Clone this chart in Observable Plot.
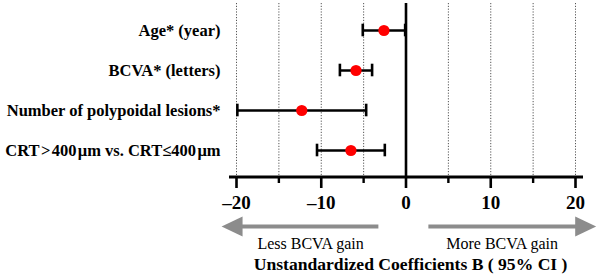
<!DOCTYPE html>
<html>
<head>
<meta charset="utf-8">
<script src="https://cdn.jsdelivr.net/npm/d3@7"></script>
<script src="https://cdn.jsdelivr.net/npm/@observablehq/plot@0.6"></script>
<style>
  html, body { margin: 0; padding: 0; background: #fff; }
  #chart svg { display: block; }
</style>
</head>
<body>
<div id="chart"></div>
<script>
// Predictors of BCVA gain: unstandardized coefficients B with 95% CI
const predictors = [
  "Age* (year)",
  "BCVA* (letters)",
  "Number of polypoidal lesions*",
  "CRT\u200a>\u200a400\u200a\u03bcm vs. CRT\u2264400\u200a\u03bcm"
];
const coefB   = [-2.6, -5.9, -12.3, -6.5];
const ciLower = [-5.1, -7.8, -19.9, -10.5];
const ciUpper = [-0.1, -4.0, -4.7, -2.5];

const majorTicks = [-20, -10, 0, 10, 20];
const minorTicks = [-15, -5, 5, 15];
const gridValues = [-20, -15, -10, -5, 5, 10, 15, 20];

const directionLabels = ["Less BCVA gain", "More BCVA gain"];
const axisTitle = "Unstandardized Coefficients B ( 95% CI )";

const rows = predictors.map((name, i) => ({
  name, b: coefB[i], lo: ciLower[i], hi: ciUpper[i]
}));

const serif = "'Liberation Serif', 'Times New Roman', serif";
const fmt = d => d < 0 ? "\u2013" + (-d) : String(d);

const plot = Plot.plot({
  width: 597,
  height: 278,
  marginLeft: 236,
  marginRight: 22,
  marginTop: 3,
  marginBottom: 101,
  style: { fontFamily: serif, background: "#fff", color: "#000", overflow: "visible" },
  x: { domain: [-20, 20] },
  y: { type: "band", domain: predictors, range: [9.8, 171.2], padding: 0 },
  marks: [
    Plot.ruleX(gridValues, { stroke: "#555", strokeWidth: 1, strokeDasharray: "1.2,1.6" }),
    Plot.ruleX([0], { stroke: "#000", strokeWidth: 2.6 }),
    Plot.axisY({ tickSize: 0, tickPadding: 16, fontSize: 16.5, fontWeight: "bold", label: null }),
    Plot.axisX({ ticks: majorTicks, tickSize: 11, tickPadding: 7, tickFormat: fmt,
                 fontSize: 19, fontWeight: "bold", strokeWidth: 2.6, label: null }),
    Plot.axisX({ ticks: minorTicks, tickSize: 6, tickFormat: () => "", strokeWidth: 2.4, label: null }),
    Plot.link(rows, { x1: "lo", x2: "hi", y1: "name", y2: "name", stroke: "#000", strokeWidth: 2.6 }),
    Plot.tickX(rows, { x: "lo", y: "name", stroke: "#000", strokeWidth: 2.6, insetTop: 13.7, insetBottom: 13.7 }),
    Plot.tickX(rows, { x: "hi", y: "name", stroke: "#000", strokeWidth: 2.6, insetTop: 13.7, insetBottom: 13.7 }),
    Plot.dot(rows, { x: "b", y: "name", r: 5.6, fill: "#ff0000", stroke: "none" })
  ]
});

document.getElementById("chart").append(plot);

// Axis baseline, direction arrows and their captions below the axis
const svg = d3.select(plot);
const x = plot.scale("x").apply;
const yAxis = 278 - 101;

svg.append("line")
  .attr("x1", x(-20) - 7).attr("x2", x(20) + 8)
  .attr("y1", yAxis).attr("y2", yAxis)
  .attr("stroke", "#000").attr("stroke-width", 3);

const grey = "#8c8c8c";
const arrowY = 226.5;
const arrows = [
  { tail: x(-3.2), tip: x(-21.7) },
  { tail: x(2.7),  tip: x(22.5) }
];
for (const a of arrows) {
  const dir = Math.sign(a.tip - a.tail);
  const headLen = 21, headHalf = 10;
  const base = a.tip - dir * headLen;
  svg.append("line")
    .attr("x1", a.tail).attr("x2", base + dir * 1)
    .attr("y1", arrowY).attr("y2", arrowY)
    .attr("stroke", grey).attr("stroke-width", 4.2);
  svg.append("path")
    .attr("d", `M${a.tip},${arrowY}L${base},${arrowY - headHalf}L${base},${arrowY + headHalf}Z`)
    .attr("fill", grey);
}

const labelCenters = [x(-11.2), x(11.4)];
directionLabels.forEach((t, i) => {
  svg.append("text")
    .attr("x", labelCenters[i]).attr("y", 249)
    .attr("text-anchor", "middle")
    .attr("font-family", serif).attr("font-size", 16)
    .attr("fill", "#000")
    .text(t);
});

svg.append("text")
  .attr("x", x(0.6)).attr("y", 270)
  .attr("text-anchor", "middle")
  .attr("font-family", serif).attr("font-size", 17.6).attr("font-weight", "bold")
  .attr("fill", "#000")
  .text(axisTitle);
</script>
</body>
</html>
